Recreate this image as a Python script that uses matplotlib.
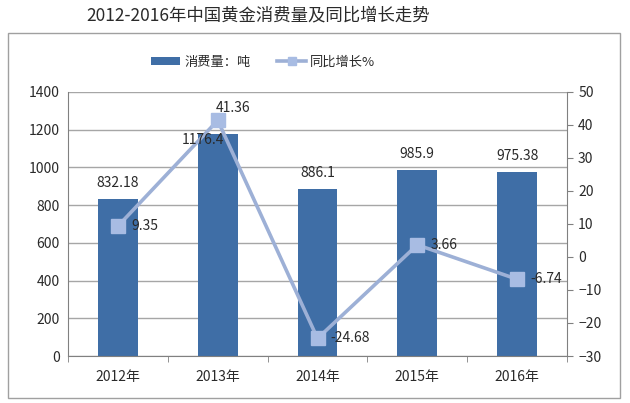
import matplotlib.pyplot as plt
from matplotlib.patches import Rectangle
import numpy as np

plt.rcParams['font.family'] = ['Noto Sans CJK SC', 'DejaVu Sans']

years = ['2012年', '2013年', '2014年', '2015年', '2016年']
consumption = [832.18, 1176.4, 886.1, 985.9, 975.38]
growth = [9.35, 41.36, -24.68, 3.66, -6.74]
cons_labels = ['832.18', '1176.4', '886.1', '985.9', '975.38']
growth_labels = ['9.35', '41.36', '-24.68', '3.66', '-6.74']

bar_color = '#3F6EA6'
line_color = '#9DB0D6'
marker_color = '#A8BCE3'
grid_color = '#A6A6A6'
txt = '#2A2A2A'

fig = plt.figure(figsize=(6.3, 4.03), dpi=100)
ax = fig.add_axes([0.108, 0.1166, 0.792, 0.6554])
ax2 = ax.twinx()

x = np.arange(len(years))
ax.bar(x, consumption, width=0.4, color=bar_color, zorder=2, label='消费量：吨')
ax.set_ylim(0, 1400)
ax.set_yticks(np.arange(0, 1401, 200))
ax.set_xlim(-0.5, len(years) - 0.5)
ax.yaxis.grid(True, color=grid_color, linewidth=1, zorder=0)
ax.set_axisbelow(True)
ax.set_xticks(x)
ax.set_xticklabels(years, fontsize=10, color=txt, fontweight='medium')
ax.set_xticks(np.arange(-0.5, len(years), 1), minor=True)
ax.tick_params(axis='x', which='major', length=0, pad=10)
ax.tick_params(axis='x', which='minor', length=4, color='#808080', direction='out')
ax.tick_params(axis='y', length=0, labelsize=10, labelcolor=txt, pad=6)
for s in ['top', 'right']:
    ax.spines[s].set_visible(False)
ax.spines['left'].set_color('#808080')
ax.spines['bottom'].set_color('#808080')

ax2.plot(x, growth, color=line_color, linewidth=2.6, marker='s', markersize=10,
         markerfacecolor=marker_color, markeredgecolor=marker_color, zorder=4, label='同比增长%')
ax2.set_ylim(-30, 50)
ax2.set_yticks(np.arange(-30, 51, 10))
ax2.tick_params(axis='y', length=4, color='#808080', direction='out', labelsize=10,
                labelcolor=txt, pad=4)
for s in ['top', 'left', 'bottom']:
    ax2.spines[s].set_visible(False)
ax2.spines['right'].set_color('#808080')

# bar labels drawn on top axes so they sit above the line
for xi, v, lab in zip(x, consumption, cons_labels):
    if v > 1100:
        ax2.text(xi - 0.15, v - 30, lab, transform=ax.transData, ha='center', va='center',
                 fontsize=10, color=txt, zorder=6)
    else:
        ax2.text(xi, v + 85, lab, transform=ax.transData, ha='center', va='center',
                 fontsize=10, color=txt, zorder=6)

for xi, v, lab in zip(x, growth, growth_labels):
    if v > 40:
        ax2.text(xi + 0.15, v + 3.8, lab, ha='center', va='center', fontsize=10, color=txt, zorder=6)
    else:
        ax2.text(xi + 0.13, v, lab, ha='left', va='center', fontsize=10, color=txt, zorder=6)

h1, l1 = ax.get_legend_handles_labels()
h2, l2 = ax2.get_legend_handles_labels()
leg = fig.legend(h1 + h2, l1 + l2, loc='center', bbox_to_anchor=(0.418, 0.846), ncol=2,
                 frameon=False, fontsize=9.5, handlelength=2.2, handleheight=0.6,
                 columnspacing=2, handletextpad=0.3, markerscale=0.6)
for t in leg.get_texts():
    t.set_color(txt)

fig.add_artist(Rectangle((8 / 630, 5 / 403), 612 / 630, 365 / 403, transform=fig.transFigure,
                         fill=False, edgecolor='#A0A0A0', linewidth=1))
fig.text(0.41, 0.962, '2012-2016年中国黄金消费量及同比增长走势', ha='center', va='center',
         fontsize=12.5, color=txt)

fig.savefig('out.png', dpi=100)
